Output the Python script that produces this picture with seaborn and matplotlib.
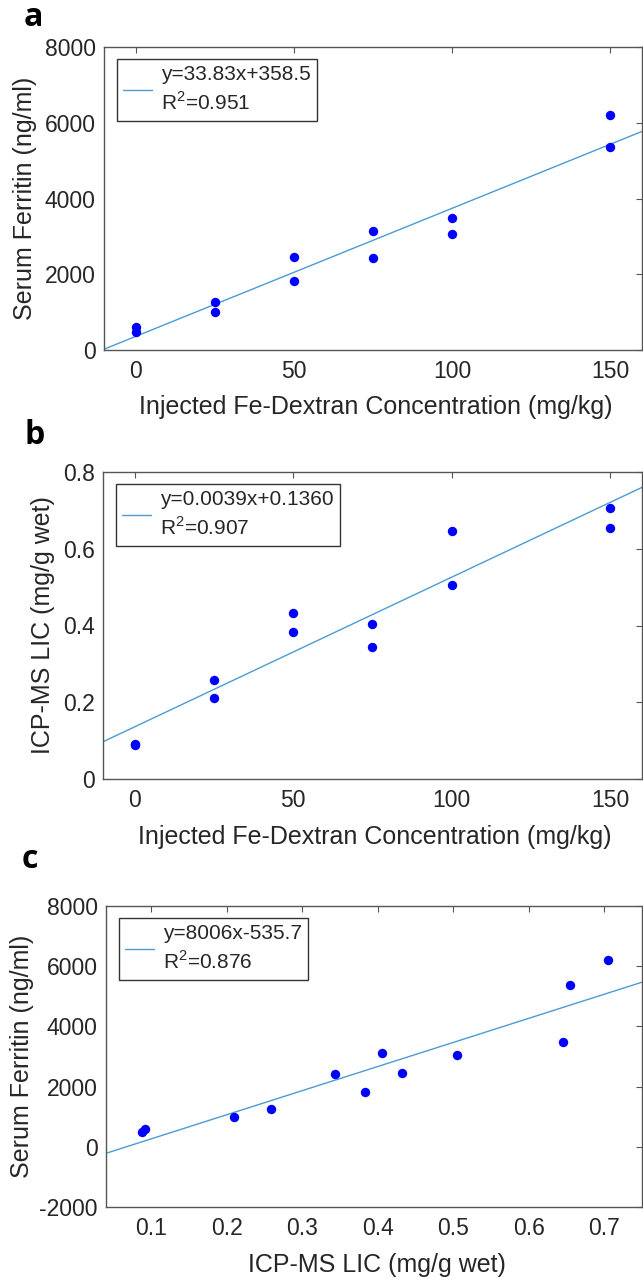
import numpy as np
import pandas as pd
import matplotlib
matplotlib.use("Agg")
import matplotlib.pyplot as plt
import seaborn as sns

# ---------------- data ----------------
dose = [0, 0, 25, 25, 50, 50, 75, 75, 100, 100, 150, 150]
ferritin = [600, 480, 1270, 1000, 2450, 1830, 3130, 2430, 3480, 3050, 6200, 5370]
lic = [0.092, 0.088, 0.258, 0.210, 0.432, 0.383, 0.405, 0.343, 0.645, 0.505, 0.705, 0.655]

fit_slope = [33.83, 0.0039, 8006]
fit_intercept = [358.5, 0.1360, -535.7]
fit_labels = ["y=33.83x+358.5\nR$^2$=0.951",
              "y=0.0039x+0.1360\nR$^2$=0.907",
              "y=8006x-535.7\nR$^2$=0.876"]

panel_letters = ["a", "b", "c"]
x_labels = ["Injected Fe-Dextran Concentration (mg/kg)",
            "Injected Fe-Dextran Concentration (mg/kg)",
            "ICP-MS LIC (mg/g wet)"]
y_labels = ["Serum Ferritin (ng/ml)", "ICP-MS LIC (mg/g wet)", "Serum Ferritin (ng/ml)"]

xticks_a = [0, 50, 100, 150]
yticks_a = [0, 2000, 4000, 6000, 8000]
yticks_b = [0, 0.2, 0.4, 0.6, 0.8]
yticklabels_b = ["0", "0.2", "0.4", "0.6", "0.8"]
xticks_c = [0.1, 0.2, 0.3, 0.4, 0.5, 0.6, 0.7]
xticklabels_c = ["0.1", "0.2", "0.3", "0.4", "0.5", "0.6", "0.7"]
yticks_c = [-2000, 0, 2000, 4000, 6000, 8000]

df = pd.DataFrame({"dose": dose, "ferritin": ferritin, "lic": lic})

# ---------------- style ----------------
sns.set_theme(style="white")
plt.rcParams["font.family"] = ["Liberation Sans", "DejaVu Sans"]
plt.rcParams["mathtext.fontset"] = "custom"
plt.rcParams["mathtext.rm"] = "Liberation Sans"
plt.rcParams["axes.unicode_minus"] = False

W, H = 643, 1280
fig = plt.figure(figsize=(W / 100, H / 100), dpi=100)

def px_axes(left, top, right, bottom):
    return [left / W, 1 - bottom / H, (right - left) / W, (bottom - top) / H]

axes_px = [(104, 47, 642, 350), (103, 472, 642, 779), (106, 906, 642, 1207)]
letter_pos = [(33, 18), (35, 435), (30, 860)]
ylabel_x = [25, 43, 22]
xlabel_y = [407, 837, 1265]

dot_color = "#0000ff"
line_color = "#4a9cd3"
spine_color = "#555555"
text_color = "#262626"

specs = [
    ("dose", "ferritin", (-10, 160), (0, 8000), xticks_a, None, yticks_a, None),
    ("dose", "lic", (-10, 160), (0, 0.8), xticks_a, None, yticks_b, yticklabels_b),
    ("lic", "ferritin", (0.04, 0.75), (-2000, 8000), xticks_c, xticklabels_c, yticks_c, None),
]

for i, (xc, yc, xlim, ylim, xt, xtl, yt, ytl) in enumerate(specs):
    l, t, r, b = axes_px[i]
    ax = fig.add_axes(px_axes(l, t, r, b))
    sns.scatterplot(data=df, x=xc, y=yc, ax=ax, color=dot_color, s=46,
                    edgecolor=dot_color, linewidth=0, zorder=3, legend=False)
    ax.axline((0, fit_intercept[i]), slope=fit_slope[i], color=line_color,
              lw=1.0, label=fit_labels[i], zorder=2)
    ax.set_xlim(*xlim)
    ax.set_ylim(*ylim)
    ax.set_xticks(xt)
    if xtl is not None:
        ax.set_xticklabels(xtl)
    ax.set_yticks(yt)
    if ytl is not None:
        ax.set_yticklabels(ytl)
    ax.tick_params(direction="in", length=4, width=0.8, color=spine_color,
                   top=True, right=True, labelsize=16.5, labelcolor=text_color)
    ax.tick_params(axis="x", pad=7)
    ax.tick_params(axis="y", pad=6)
    for sp in ax.spines.values():
        sp.set_color(spine_color)
        sp.set_linewidth(1.0)
    ax.set_xlabel(x_labels[i], fontsize=18, color=text_color, va="center")
    ax.set_ylabel(y_labels[i], fontsize=18, color=text_color, va="center")
    w_px = r - l
    h_px = b - t
    ax.xaxis.set_label_coords(0.505, (b - xlabel_y[i]) / h_px)
    ax.yaxis.set_label_coords((ylabel_x[i] - l) / w_px, 0.5)

    leg = ax.legend(loc="upper left", bbox_to_anchor=(13 / w_px, 1 - 12 / h_px),
                    borderaxespad=0, fontsize=15, frameon=True, fancybox=False,
                    framealpha=1, edgecolor="#333333", handlelength=1.4,
                    handletextpad=0.4, borderpad=0.3)
    leg.get_frame().set_linewidth(1.0)
    for txt in leg.get_texts():
        txt.set_linespacing(1.4)
        txt.set_color(text_color)

    lx, ly = letter_pos[i]
    fig.text(lx / W, 1 - ly / H, panel_letters[i], fontsize=23, fontweight="bold",
             family=["Open Sans", "DejaVu Sans"], ha="center", va="center", color="black")

fig.savefig("out.png", dpi=100)
